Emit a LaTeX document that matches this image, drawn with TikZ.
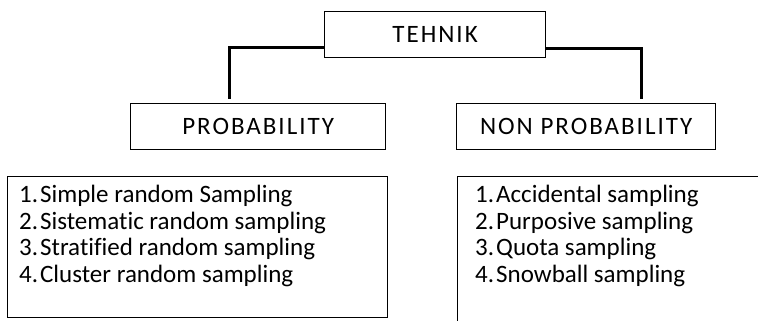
\documentclass[tikz,border=0pt]{standalone}
\usepackage{fontspec}
\setmainfont[Ligatures={NoCommon}]{Carlito}
\tikzset{
  box/.style={draw=black, line width=1.2bp, rectangle, inner sep=0pt, anchor=north west},
  head/.style={font=\fontsize{25bp}{27bp}\selectfont\addfontfeature{LetterSpace=8}},
  item/.style={font=\fontsize{25bp}{27bp}\selectfont, inner sep=0pt, anchor=base west},
  conn/.style={line width=3bp}
}
\newcommand\itemno[1]{#1.\kern2bp}
\begin{document}
\begin{tikzpicture}[x=1bp, y=-1bp]
\useasboundingbox (0,0) rectangle (758,320);
\clip (0,0) rectangle (758,320);

% heading boxes
\node[box, head, minimum width=221bp, minimum height=46bp] (tehnik) at (324,11) {TEHNIK};
\node[box, head, minimum width=255bp, minimum height=46bp] (prob) at (130,103) {PROBABILITY};
\node[box, head, minimum width=259bp, minimum height=46bp] (nonprob) at (456,103) {NON PROBABILITY};

% branches from the top box
\draw[conn] ([yshift=-13bp]tehnik.west) -| ([xshift=-28.5bp,yshift=4bp]prob.north);
\draw[conn] ([yshift=-14bp]tehnik.east) -| ([xshift=55bp,yshift=4bp]nonprob.north);

% list boxes
\node[box, minimum width=380bp, minimum height=141bp] (lbox) at (7,176) {};
\node[box, minimum width=330bp, minimum height=170bp] (rbox) at (457,176) {};

% list entries
\foreach \t [count=\i] in {Simple random Sampling, Sistematic random sampling,
    Stratified random sampling, Cluster random sampling}
  \node[item] (litem\i) at (19,{202.5+26.7*(\i-1)}) {\itemno{\i}\t};
\foreach \t [count=\i] in {Accidental sampling, Purposive sampling,
    Quota sampling, Snowball sampling}
  \node[item] (ritem\i) at (475,{202.5+26.7*(\i-1)}) {\itemno{\i}\t};
\end{tikzpicture}
\end{document}
